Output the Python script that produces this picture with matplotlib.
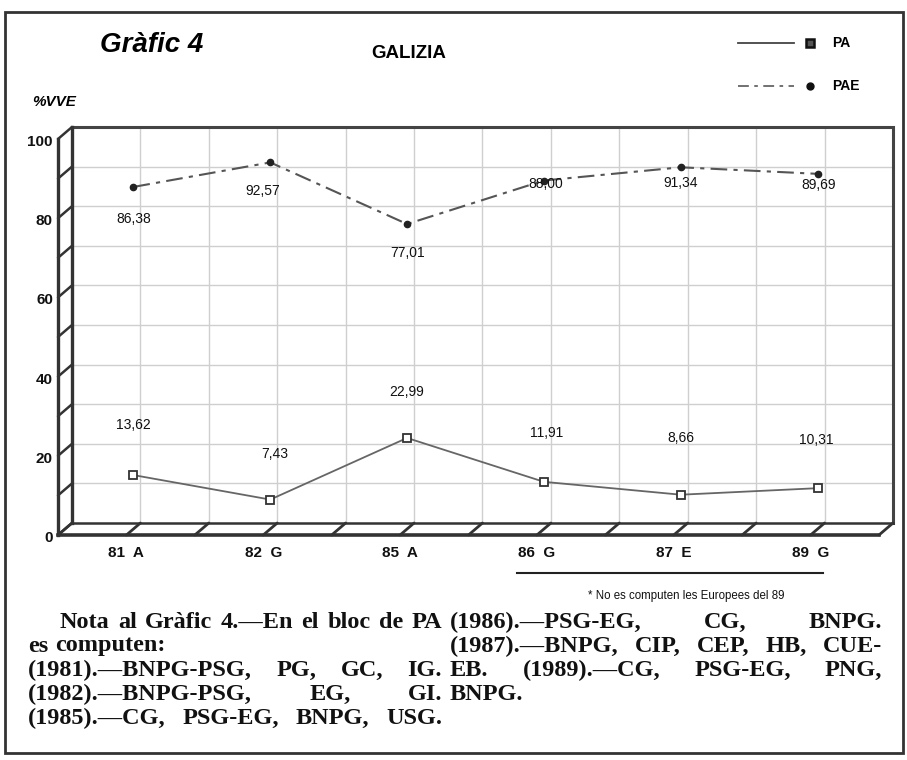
import matplotlib
matplotlib.use("Agg")
import matplotlib.pyplot as plt
from matplotlib.transforms import ScaledTranslation
from matplotlib.patches import ConnectionPatch, Rectangle
from matplotlib.lines import Line2D

# ---------------- data ----------------
categories = ["81  A", "82  G", "85  A", "86  G", "87  E", "89  G"]
pa_values = [13.62, 7.43, 22.99, 11.91, 8.66, 10.31]
pae_values = [86.38, 92.57, 77.01, 88.00, 91.34, 89.69]
y_ticks = [0, 20, 40, 60, 80, 100]

# label offsets in pixels (dx, dy downwards) relative to the points
pa_label_off = [(0, -50), (4, -46), (0, -46), (3, -49), (0, -57), (-1, -48)]
pae_label_off = [(0, 32), (-8, 29), (0, 29), (2, 3), (0, 16), (1, 11)]

W, H = 907, 760
fig = plt.figure(figsize=(W / 100, H / 100), dpi=100)
fig.patch.set_facecolor("white")

SANS = "Liberation Sans"
SERIF = "Liberation Serif"

# back wall of the pseudo-3D chart
bx0, bx1, by_top, by_bot = 72, 893, 127, 523
ax = fig.add_axes([bx0 / W, 1 - by_bot / H, (bx1 - bx0) / W, (by_bot - by_top) / H])
ax.set_xlim(-0.5, len(categories) - 0.5)
ax.set_ylim(0, 100)
ax.axis("off")

DX, DY = -14, -12   # depth offset of the front plane, pixels
front_tr = ax.transData + ScaledTranslation(DX / 100, DY / 100, fig.dpi_scale_trans)
mid_tr = ax.transData + ScaledTranslation(DX / 200, DY / 200, fig.dpi_scale_trans)

xmin, xmax = -0.5, len(categories) - 0.5
grid_c = "#cfcfcf"
dark = "#333333"

# grid on back wall
for yv in range(10, 100, 10):
    ax.plot([xmin, xmax], [yv, yv], color=grid_c, lw=1.0, zorder=1)
xv = xmin + 0.5
while xv < xmax - 1e-9:
    ax.plot([xv, xv], [0, 100], color=grid_c, lw=1.0, zorder=1)
    xv += 0.5

# back wall frame
ax.plot([xmin, xmax, xmax], [100, 100, 0], color="#444444", lw=2.2, zorder=3,
        clip_on=False, solid_joinstyle="miter")
ax.plot([xmin, xmin], [0, 100], color=dark, lw=2.4, zorder=3, clip_on=False)
ax.plot([xmin, xmax], [0, 0], color=dark, lw=1.8, zorder=3, clip_on=False)

# left wall front edge + slanted rungs
ax.plot([xmin, xmin], [0, 100], color=dark, lw=2.4, transform=front_tr,
        zorder=3, clip_on=False)


def connect(x, y, lw=1.8):
    cp = ConnectionPatch(xyA=(x, y), coordsA=ax.transData, xyB=(x, y), coordsB=front_tr,
                         arrowstyle="-", color=dark, lw=lw, shrinkA=0, shrinkB=0,
                         zorder=3, clip_on=False)
    ax.add_artist(cp)


for yv in range(0, 101, 10):
    connect(xmin, yv)

# floor front edge and slanted marks
ax.plot([xmin, xmax], [0, 0], color=dark, lw=2.6, transform=front_tr,
        zorder=3, clip_on=False)
xv = xmin
while xv <= xmax + 1e-9:
    connect(xv, 0, lw=2.0)
    xv += 0.5

# y tick labels on the front of the left wall
ylab_tr = front_tr + ScaledTranslation(-5 / 100, -3 / 100, fig.dpi_scale_trans)
for yv in y_ticks:
    ax.text(xmin, yv, str(yv), transform=ylab_tr, ha="right", va="center",
            fontsize=11, fontweight="bold", family=SANS, color="#111111")

# x category labels
xlab_tr = front_tr + ScaledTranslation(0, -18 / 100, fig.dpi_scale_trans)
for i, c in enumerate(categories):
    ax.text(i, 0, c, transform=xlab_tr, ha="center", va="center",
            fontsize=11, fontweight="bold", family=SANS, color="#111111")

# data series
xs = list(range(len(categories)))
ax.plot(xs, pa_values, color="#666666", lw=1.3, marker="s", ms=5.5,
        mfc="white", mec="#333333", mew=1.3, transform=mid_tr, zorder=5, clip_on=False)
ax.plot(xs, pae_values, color="#555555", lw=1.5, linestyle=(0, (8, 3, 2, 3)),
        marker="o", ms=4.5, mfc="#222222", mec="#222222", transform=mid_tr,
        zorder=5, clip_on=False)


def fmt(v):
    return f"{v:.2f}".replace(".", ",")


for i, v in enumerate(pa_values):
    dx, dy = pa_label_off[i]
    ax.annotate(fmt(v), xy=(i, v), xycoords=mid_tr, xytext=(dx * 0.72, -dy * 0.72),
                textcoords="offset points", ha="center", va="center",
                fontsize=10, family=SANS, color="#111111", zorder=6)
for i, v in enumerate(pae_values):
    dx, dy = pae_label_off[i]
    ax.annotate(fmt(v), xy=(i, v), xycoords=mid_tr, xytext=(dx * 0.72, -dy * 0.72),
                textcoords="offset points", ha="center", va="center",
                fontsize=10, family=SANS, color="#111111", zorder=6)


def fx(px):
    return px / W


def fy(py):
    return 1 - py / H


# titles
fig.text(fx(100), fy(45), "Gràfic 4", fontsize=20, fontweight="bold", fontstyle="italic",
         family=SANS, ha="left", va="center")
fig.text(fx(409), fy(53), "GALIZIA", fontsize=13.5, fontweight="bold",
         family=SANS, ha="center", va="center")
fig.text(fx(32), fy(102), "%VVE", fontsize=11, fontweight="bold", fontstyle="italic",
         family=SANS, ha="left", va="center")

# legend
fig.add_artist(Line2D([fx(738), fx(794)], [fy(43), fy(43)], color="#444444", lw=1.3))
fig.add_artist(Line2D([fx(810)], [fy(43)], marker="s", ms=6, mfc="#555555",
                      mec="#111111", mew=1.8, lw=0))
fig.text(fx(832), fy(43), "PA", fontsize=10, fontweight="bold", family=SANS,
         ha="left", va="center")
fig.add_artist(Line2D([fx(738), fx(794)], [fy(86), fy(86)], color="#666666", lw=1.3,
                      linestyle=(0, (6, 3, 2, 3))))
fig.add_artist(Line2D([fx(810)], [fy(86)], marker="o", ms=5, mfc="#111111",
                      mec="#111111", lw=0))
fig.text(fx(832), fy(86), "PAE", fontsize=10, fontweight="bold", family=SANS,
         ha="left", va="center")

# underline below the last categories and footnote
fig.add_artist(Line2D([fx(517), fx(823)], [fy(573), fy(573)], color="#222222", lw=1.5))
fig.text(fx(588), fy(596), "* No es computen les Europees del 89", fontsize=8.3,
         family=SANS, ha="left", va="center", color="#111111")

# outer frame
fig.add_artist(Rectangle((fx(5), fy(753)), fx(903) - fx(5), fy(12) - fy(753),
                         fill=False, ec="#333333", lw=2.0, transform=fig.transFigure))

# justified note text
renderer = fig.canvas.get_renderer()
NFS = 17.5


def put_line(text, x0, x1, y, justify=True):
    words = text.split()
    arts = [fig.text(0, 0, w, fontsize=NFS, fontweight="bold", family=SERIF,
                     ha="left", va="center", color="#111111") for w in words]
    widths = [a.get_window_extent(renderer).width for a in arts]
    if justify and len(words) > 1:
        gap = (x1 - x0 - sum(widths)) / (len(words) - 1)
    else:
        gap = 0.28 * NFS * 100 / 72
    x = x0
    for a, w in zip(arts, widths):
        a.set_position((fx(x), fy(y)))
        x += w + gap


left_lines = ["Nota al Gràfic 4.—En el bloc de PA", "es computen:",
              "(1981).—BNPG-PSG, PG, GC, IG.", "(1982).—BNPG-PSG, EG, GI.",
              "(1985).—CG, PSG-EG, BNPG, USG."]
right_lines = ["(1986).—PSG-EG, CG, BNPG.", "(1987).—BNPG, CIP, CEP, HB, CUE-",
               "EB. (1989).—CG, PSG-EG, PNG,", "BNPG."]
line_y = [622, 646, 670, 694, 718]
LX0, LX1 = 28, 442
RX0, RX1 = 450, 882
put_line(left_lines[0], LX0 + 32, LX1, line_y[0])
put_line(left_lines[1], LX0, LX1, line_y[1], justify=False)
for k in range(2, 5):
    put_line(left_lines[k], LX0, LX1, line_y[k])
for k in range(3):
    put_line(right_lines[k], RX0, RX1, line_y[k])
put_line(right_lines[3], RX0, RX1, line_y[3], justify=False)

fig.savefig("out.png", dpi=100, facecolor="white")
